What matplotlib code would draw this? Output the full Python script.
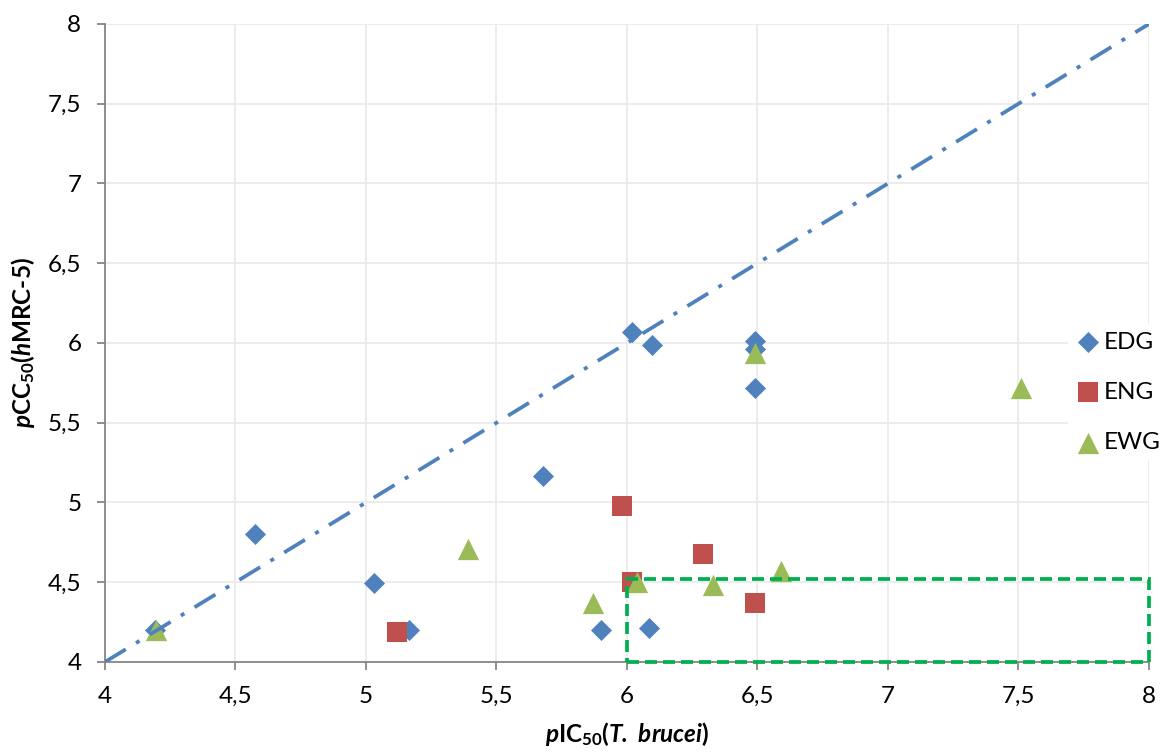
import numpy as np
import matplotlib
matplotlib.use("Agg")
import matplotlib.pyplot as plt
from matplotlib.ticker import FuncFormatter, MultipleLocator
from matplotlib.patches import Rectangle

plt.rcParams['font.family'] = ['Lato', 'DejaVu Sans']
plt.rcParams['mathtext.fontset'] = 'custom'
plt.rcParams['mathtext.rm'] = 'Lato'
plt.rcParams['mathtext.it'] = 'Lato:italic'
plt.rcParams['mathtext.bf'] = 'Lato:bold'
plt.rcParams['mathtext.bfit'] = 'Lato:italic:bold'

# data
edg_x = [4.19, 4.575, 5.03, 5.165, 5.68, 5.90, 6.02, 6.095, 6.085, 6.49, 6.49, 6.49]
edg_y = [4.20, 4.80, 4.495, 4.20, 5.165, 4.20, 6.07, 5.99, 4.21, 6.01, 5.96, 5.72]
eng_x = [5.12, 5.98, 6.02, 6.29, 6.49]
eng_y = [4.19, 4.98, 4.50, 4.68, 4.37]
ewg_x = [4.195, 5.39, 5.87, 6.04, 6.33, 6.59, 6.49, 7.51]
ewg_y = [4.20, 4.71, 4.37, 4.50, 4.48, 4.57, 5.94, 5.72]
diag = [4, 8]
box_x = (6.0, 8.0)
box_y = (4.0, 4.52)

fig = plt.figure(figsize=(11.6, 7.52), dpi=100)
ax = fig.add_axes([0.0905, 0.1197, 0.9, 0.8484])

ax.scatter(edg_x, edg_y, marker='D', s=115, color='#4F81BD', linewidths=0, label='EDG', zorder=3)
ax.scatter(eng_x, eng_y, marker='s', s=225, color='#C0504D', linewidths=0, label='ENG', zorder=4)
ax.scatter(ewg_x, ewg_y, marker='^', s=235, color='#9BBB59', linewidths=0, label='EWG', zorder=5)
ax.plot(diag, diag, color='#4F81BD', lw=2.7, dashes=(6.5, 3.2, 1.1, 3.2), zorder=6)

ax.add_patch(Rectangle((box_x[0], box_y[0]), box_x[1] - box_x[0], box_y[1] - box_y[0],
                       fill=False, edgecolor='#00B050', lw=2.7, linestyle=(0, (3.2, 1.6)),
                       zorder=7, clip_on=False))

ax.set_xlim(4, 8)
ax.set_ylim(4, 8)
ax.xaxis.set_major_locator(MultipleLocator(0.5))
ax.yaxis.set_major_locator(MultipleLocator(0.5))
fmt = FuncFormatter(lambda v, p: ('%g' % v).replace('.', ','))
ax.xaxis.set_major_formatter(fmt)
ax.yaxis.set_major_formatter(fmt)
ax.grid(True, color='#ebebeb', lw=1.3, zorder=0)
ax.set_axisbelow(True)

for side in ['top', 'right']:
    ax.spines[side].set_visible(False)
for side in ['left', 'bottom']:
    ax.spines[side].set_color('#868686')
    ax.spines[side].set_linewidth(1.3)
ax.tick_params(axis='both', colors='#868686', length=6, width=1.3, labelsize=17.5,
               labelcolor='black', pad=11)

ax.set_xlabel(r'$\mathbfit{p}$IC$_{\mathbf{50}}$($\mathbfit{T.\ brucei}$)', fontsize=17.5,
              fontweight='bold', labelpad=10)
ax.set_ylabel(r'$\mathbfit{p}$CC$_{\mathbf{50}}$($\mathbfit{h}$MRC-5)', fontsize=17.5,
              fontweight='bold', labelpad=8)

leg = ax.legend(loc='upper left', bbox_to_anchor=(0.91, 0.585), bbox_transform=fig.transFigure,
                frameon=True, fontsize=17.5, handletextpad=0.1, labelspacing=1.2,
                borderpad=0.3, handlelength=1.1, scatterpoints=1)
leg.get_frame().set_facecolor('white')
leg.get_frame().set_edgecolor('none')
leg.get_frame().set_alpha(1)

fig.savefig('out.png', dpi=100)
